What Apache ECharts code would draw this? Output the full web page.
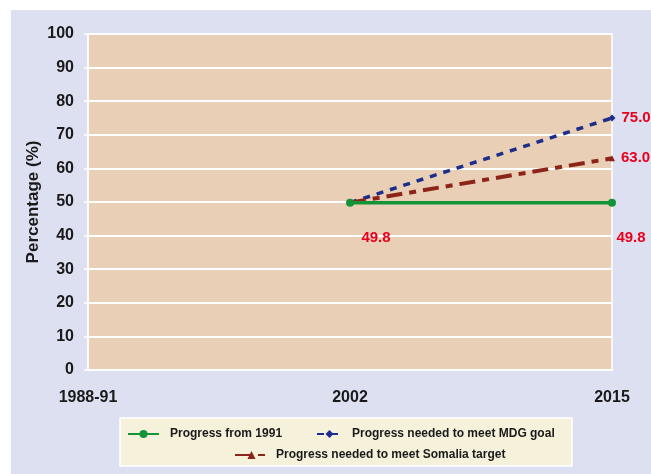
<!DOCTYPE html>
<html>
<head>
<meta charset="utf-8">
<script src="https://cdn.jsdelivr.net/npm/echarts@6/dist/echarts.min.js"></script>
<style>
  html, body { margin: 0; padding: 0; background: #fff; }
  #chart { width: 651px; height: 474px; }
</style>
</head>
<body>
<div id="chart"></div>
<script>
// categories and series values
const years = ['1988-91', '2002', '2015']
const progressFrom1991 = [null, 49.8, 49.8]
const mdgGoal = [null, 49.8, 75.0]
const somaliaTarget = [null, 49.8, 63.0]
const yTicks = [0, 10, 20, 30, 40, 50, 60, 70, 80, 90, 100]

const labelRed = '#e8001c'
const labelFont = { color: labelRed, fontWeight: 'bold', fontSize: 15, fontFamily: 'Liberation Sans, Arial' }
const legendFont = { color: '#1a1a1a', fontWeight: 'bold', fontSize: 12, fontFamily: 'Liberation Sans, Arial' }

// green labels sit under the points, a bit to the right
const greenOffsets = [null, [26, 0], [19, 0]]

const chart = echarts.init(document.getElementById('chart'))

const option = {
  animation: false,
  backgroundColor: '#ffffff',
  graphic: [
    { type: 'rect', z: -10, shape: { x: 11, y: 10, width: 640, height: 464 }, style: { fill: '#dde0f1' } },
    { type: 'rect', z: -5, shape: { x: 120, y: 418, width: 452, height: 48 }, style: { fill: '#f5f1da', stroke: '#ffffff', lineWidth: 1.5 } }
  ],
  grid: {
    left: 88, right: 39, top: 34, bottom: 104,
    show: true,
    backgroundColor: '#e8cfb5',
    borderColor: '#ffffff',
    borderWidth: 1.5
  },
  xAxis: {
    type: 'category',
    data: years,
    boundaryGap: false,
    axisLine: { lineStyle: { color: '#ffffff', width: 2 } },
    axisTick: { show: false },
    axisLabel: { margin: 20, color: '#1a1a1a', fontWeight: 'bold', fontSize: 16, fontFamily: 'Liberation Sans, Arial' },
    splitLine: { show: false }
  },
  yAxis: {
    type: 'value',
    min: yTicks[0], max: yTicks[yTicks.length - 1], interval: 10,
    name: 'Percentage (%)',
    nameLocation: 'middle',
    nameGap: 46,
    nameRotate: 90,
    nameMoveOverlap: false,
    nameTextStyle: { color: '#1a1a1a', fontWeight: 'bold', fontSize: 17, fontFamily: 'Liberation Sans, Arial' },
    axisLine: { show: true, lineStyle: { color: '#ffffff', width: 1.5 } },
    axisTick: { show: true, length: 4, lineStyle: { color: '#ffffff', width: 1.5 } },
    axisLabel: { margin: 14, color: '#1a1a1a', fontWeight: 'bold', fontSize: 16, fontFamily: 'Liberation Sans, Arial' },
    splitLine: { lineStyle: { color: '#ffffff', width: 2 } }
  },
  legend: [
    {
      data: ['Progress from 1991'], left: 127, top: 428, padding: 0, itemWidth: 31, itemHeight: 10,
      textStyle: { ...legendFont, padding: [0, 0, 0, 6] }
    },
    {
      data: ['Progress needed to meet MDG goal'], left: 316, top: 428, padding: 0, itemWidth: 25, itemHeight: 10,
      textStyle: { ...legendFont, padding: [0, 0, 0, 5] }
    },
    {
      data: ['Progress needed to meet Somalia target'], left: 234, top: 449, padding: 0, itemWidth: 33, itemHeight: 10,
      textStyle: { ...legendFont, padding: [0, 0, 0, 3] }
    }
  ],
  series: [
    {
      name: 'Progress needed to meet MDG goal',
      type: 'line',
      data: mdgGoal.map((v, i) => ({
        value: v,
        label: { show: i === 2, position: 'right', distance: 6, formatter: p => p.value.toFixed(1), ...labelFont }
      })),
      color: '#1c2d8c',
      symbol: 'diamond',
      symbolSize: 7,
      lineStyle: { color: '#1c2d8c', width: 3.5, type: [7, 7] },
      z: 3
    },
    {
      name: 'Progress needed to meet Somalia target',
      type: 'line',
      data: somaliaTarget.map((v, i) => ({
        value: v,
        label: { show: i === 2, position: 'right', distance: 6, formatter: p => p.value.toFixed(1), ...labelFont }
      })),
      color: '#8c2418',
      symbol: 'triangle',
      symbolSize: 6,
      lineStyle: { color: '#8c2418', width: 4, type: [16, 7, 7, 7] },
      z: 3
    },
    {
      name: 'Progress from 1991',
      type: 'line',
      data: progressFrom1991.map((v, i) => ({
        value: v,
        label: { show: v !== null, position: 'bottom', distance: 24, offset: greenOffsets[i] || [0, 0], formatter: p => p.value.toFixed(1), ...labelFont }
      })),
      color: '#149438',
      symbol: 'circle',
      symbolSize: 8,
      lineStyle: { color: '#149438', width: 3.5 },
      z: 4
    }
  ]
}

chart.setOption(option)
</script>
</body>
</html>
